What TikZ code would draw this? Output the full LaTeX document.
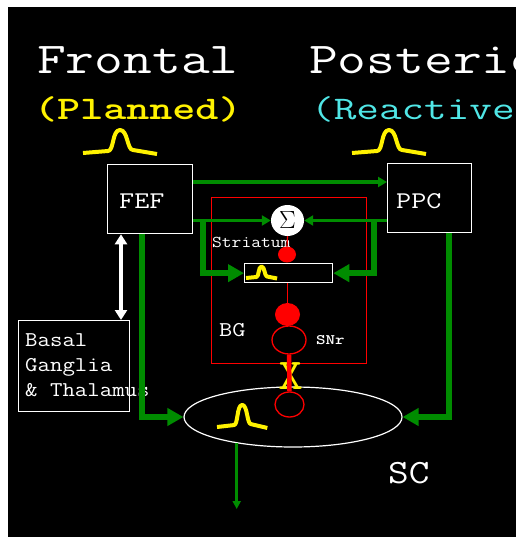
\documentclass[tikz,border=0pt]{standalone}
\usetikzlibrary{arrows.meta,shapes.geometric}
\definecolor{gr}{RGB}{0,140,0}
\definecolor{cy}{RGB}{80,230,230}
\newcommand\sx[2][1.22]{\scalebox{#1}[1]{#2}}
\newcommand\fs[1]{\fontsize{#1}{#1}\selectfont}
\begin{document}
\begin{tikzpicture}[x=1pt,y=-1pt,
  txt/.style={inner sep=0pt, anchor=base west, text=white},
  box/.style={draw=white, line width=1.3pt, anchor=north west, inner sep=0pt},
  gthin/.style={draw=gr, line width=4pt, -{Triangle[length=9pt,width=10pt]}},
  gmid/.style={draw=gr, line width=3.5pt, -{Triangle[length=9pt,width=10pt]}},
  gthick/.style={draw=gr, line width=6.5pt, -{Triangle[length=16pt,width=17pt]}},
  bump/.pic={\draw[yellow, line width=4pt, line join=round] (0,0) -- (25,-2) .. controls (31,-2) and (29,-23) .. (37,-23) .. controls (45,-23) and (44,-3) .. (50,-3) -- (74,1);},
]
\fill[white] (0,0) rectangle (519,537);
\useasboundingbox (0,0) rectangle (519,537);
\fill[black] (8,7) rectangle (516,537);

\begin{scope}
\clip (8,7) rectangle (516,537);
\node[txt, font=\ttfamily\fs{44}] (frontal) at (37,74) {\sx[1.27]{Frontal}};
\node[txt, font=\ttfamily\fs{44}] (posterior) at (309,74) {\sx[1.27]{Posterior}};
\node[txt, text=yellow, font=\ttfamily\bfseries\fs{33}] (planned) at (34,120) {\sx[1.33]{(Planned)}};
\node[txt, text=cy, font=\ttfamily\fs{33}] (reactive) at (311,120) {\sx[1.33]{(Reactive)}};
\end{scope}

\pic at (83,153) {bump};
\pic at (352,153) {bump};

% boxes
\node[box, minimum width=85pt, minimum height=69pt] (fef) at (107,164) {};
\node[txt, font=\ttfamily\fs{24}] (feft) at (119,208) {\sx{FEF}};
\node[box, minimum width=84pt, minimum height=69pt] (ppc) at (387,163) {};
\node[txt, font=\ttfamily\fs{24}] (ppct) at (396,208) {\sx{PPC}};
\node[box, minimum width=111pt, minimum height=91pt] (basal) at (18,320) {};
\node[inner sep=0pt, anchor=north west, text=white, align=left, font=\ttfamily\fontsize{21}{25}\selectfont] (basalt) at (25,333) {\sx[1.15]{Basal}\\\sx[1.15]{Ganglia}\\\sx[1.15]{\& Thalamus}};

% basal ganglia region
\node[draw=red, line width=1.3pt, anchor=north west, minimum width=155pt, minimum height=166pt, inner sep=0pt] (bg) at (211,197) {};
\node[txt, font=\ttfamily\fs{21}] (bgt) at (219,336) {\sx{BG}};
\node[txt, font=\ttfamily\fs{16.5}] (strt) at (212,247) {\sx[1.15]{Striatum}};
\node[box, minimum width=88pt, minimum height=19pt] (str) at (244,263) {};
\pic[xscale=0.42, yscale=0.5] at (246,278) {bump};

\node[ellipse, fill=white, minimum width=33pt, minimum height=31pt, inner sep=0pt, text=black] (sum) at (287.5,220.5) {\fs{24}$\Sigma$};
\node[ellipse, fill=red, minimum width=18pt, minimum height=16pt, inner sep=0pt] (dot) at (287,254.5) {};
\draw[red, line width=1.2pt] (sum.south) -- (dot.north);
\node[ellipse, fill=red, minimum width=25pt, minimum height=23pt, inner sep=0pt] (rdot) at (287.5,314.5) {};
\draw[red, line width=1.2pt] (str.south -| rdot) -- (rdot.north);
\node[ellipse, draw=red, line width=1.3pt, minimum width=34pt, minimum height=28pt, inner sep=0pt] (snr) at (289,340) {};
\node[txt, font=\ttfamily\bfseries\fs{14.5}] (snrt) at (316,344) {\sx[1.25]{SNr}};

% SC
\node[ellipse, draw=white, line width=1.2pt, minimum width=218pt, minimum height=60pt, inner sep=0pt] (sc) at (293,417) {};
\node[txt, font=\ttfamily\fs{34}] (sct) at (388,483) {\sx[1.18]{SC}};
\pic[xscale=0.68, yscale=0.96] at (217,427) {bump};
\node[ellipse, draw=red, line width=1.3pt, minimum width=29pt, minimum height=25pt, inner sep=0pt] (lc) at (289.5,404.5) {};
\node[inner sep=0pt, text=yellow, font=\ttfamily\fs{44}] (xx) at (290.5,376.5) {\sx[1.1]{X}};
\draw[red, line width=4.5pt] (snr.south) -- (lc.north);

% green connectors
\coordinate (r1) at (0,182);
\draw[gthin] (fef.east |- r1) -- (ppc.west |- r1);
\draw[gmid] (fef.east |- sum) -- (sum.west);
\draw[gmid] (ppc.west |- sum) -- (sum.east);
\coordinate (j1) at (203,0);
\coordinate (j2) at (374,0);
\draw[gthick] (j1 |- sum) |- (str.west);
\draw[gthick] (j2 |- sum) |- (str.east);
\coordinate (fl) at (142,0);
\coordinate (pl) at (449,0);
\draw[gthick] (fef.south -| fl) |- (sc.west);
\draw[gthick] (ppc.south -| pl) |- (sc.east);
\coordinate (out) at (239,509);
\draw[draw=gr, line width=3pt, -{Triangle[length=8pt,width=8pt]}] (sc.205.76) -- (sc.205.76 |- out);

% white double arrow
\coordinate (dx) at (121,0);
\draw[white, line width=4pt, {Triangle[length=10pt,width=12pt]}-{Triangle[length=10pt,width=12pt]}] (fef.south -| dx) -- (basal.north -| dx);
\end{tikzpicture}
\end{document}
